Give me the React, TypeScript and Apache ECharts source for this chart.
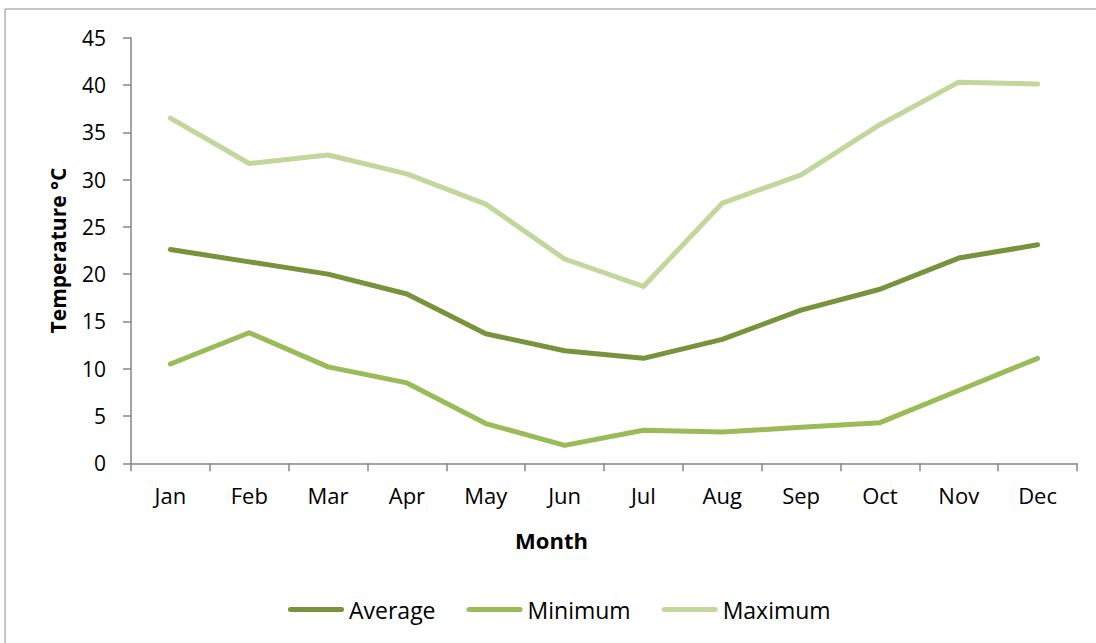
import React, { useEffect, useRef } from "react";
import * as echarts from "echarts";

const months = ["Jan", "Feb", "Mar", "Apr", "May", "Jun", "Jul", "Aug", "Sep", "Oct", "Nov", "Dec"];
const average = [22.6, 21.3, 20.0, 17.9, 13.7, 11.9, 11.1, 13.1, 16.2, 18.4, 21.7, 23.1];
const minimum = [10.5, 13.8, 10.2, 8.5, 4.2, 1.9, 3.5, 3.3, 3.8, 4.3, 7.7, 11.1];
const maximum = [36.5, 31.7, 32.6, 30.6, 27.4, 21.6, 18.7, 27.5, 30.5, 35.8, 40.3, 40.1];
const seriesNames = ["Average", "Minimum", "Maximum"];
const colors = ["#77933C", "#9BBB59", "#C3D69B"];

const FONT = "Open Sans";
const LEGEND_ICON =
  "path://M2.5,0 L53.5,0 A2.5,2.5 0 0 1 53.5,5 L2.5,5 A2.5,2.5 0 0 1 2.5,0 Z";

export default function App() {
  const ref = useRef<HTMLDivElement>(null);
  useEffect(() => {
    if (!ref.current) return;
    const chart = echarts.init(ref.current, undefined, { renderer: "svg" });
    const data = [average, minimum, maximum];
    chart.setOption({
      animation: false,
      backgroundColor: "#ffffff",
      textStyle: { fontFamily: FONT },
      graphic: [
        {
          type: "rect",
          shape: { x: 5, y: 9, width: 1200, height: 700 },
          style: { fill: "none", stroke: "#8c8c8c", lineWidth: 1 },
          silent: true,
        },
      ],
      grid: { left: 131, right: 19, top: 37.7, bottom: 179.7 },
      legend: {
        left: 283,
        top: 593,
        icon: LEGEND_ICON,
        itemWidth: 56,
        itemHeight: 5,
        itemGap: 31,
        data: seriesNames,
        textStyle: { fontFamily: FONT, fontSize: 23, color: "#000" },
      },
      xAxis: {
        type: "category",
        data: months,
        boundaryGap: true,
        name: "Month",
        nameLocation: "middle",
        nameGap: 66,
        nameTextStyle: {
          fontFamily: FONT,
          fontSize: 22,
          fontWeight: "bold",
          color: "#000",
          padding: [0, 105, 0, 0],
        },
        axisLine: { lineStyle: { color: "#868686", width: 1.5 } },
        axisTick: { show: true, length: 8, lineStyle: { color: "#868686", width: 1.5 } },
        axisLabel: { fontFamily: FONT, fontSize: 22, color: "#000", margin: 21 },
        splitLine: { show: false },
      },
      yAxis: {
        type: "value",
        min: 0,
        max: 45,
        interval: 5,
        name: "Temperature °C",
        nameLocation: "middle",
        nameGap: 63,
        nameTextStyle: { fontFamily: FONT, fontSize: 21, fontWeight: "bold", color: "#000" },
        axisLine: { show: true, lineStyle: { color: "#868686", width: 1.5 } },
        axisTick: { show: true, length: 8, lineStyle: { color: "#868686", width: 1.5 } },
        axisLabel: { fontFamily: FONT, fontSize: 21, color: "#000", margin: 25 },
        splitLine: { show: false },
      },
      series: seriesNames.map((name, i) => ({
        name,
        type: "line",
        data: data[i],
        showSymbol: false,
        symbol: "none",
        color: colors[i],
        lineStyle: { color: colors[i], width: 5, cap: "round", join: "round" },
        itemStyle: { color: colors[i] },
      })),
    });
    return () => chart.dispose();
  }, []);
  return (
    <div
      ref={ref}
      style={{ position: "absolute", left: 0, top: 0, width: 1096, height: 643 }}
    />
  );
}
